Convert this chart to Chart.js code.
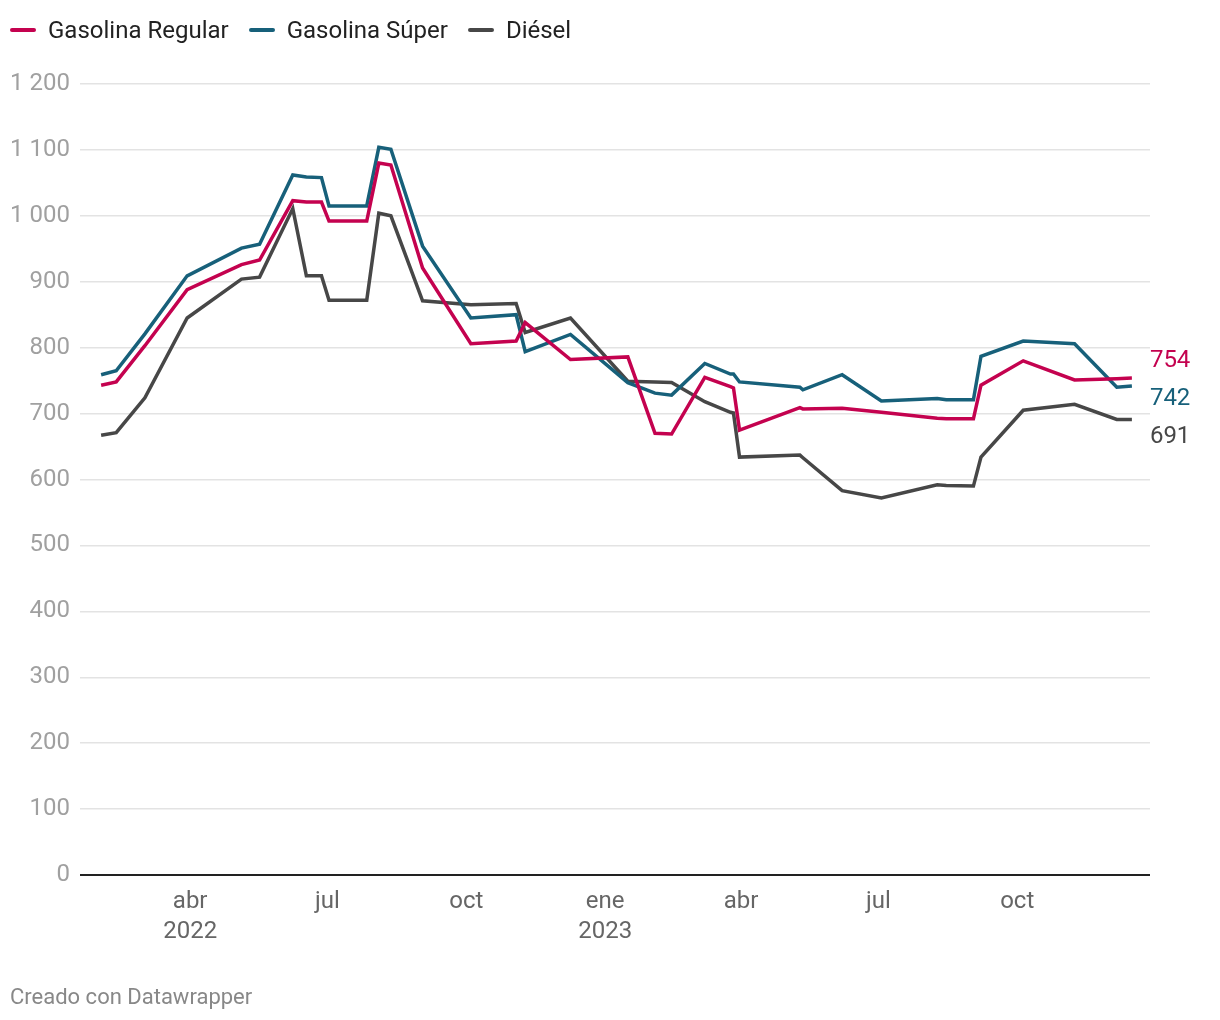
<!DOCTYPE html>
<html>
<head>
<meta charset="utf-8">
<script src="https://cdn.jsdelivr.net/npm/chart.js@4"></script>
<style>
  body { margin: 0; background: #fff; font-family: Roboto, sans-serif; }
  #wrap { position: relative; width: 1220px; height: 1020px; }
  #legend { position: absolute; left: 10px; top: 15px; display: flex; font-size: 24px; color: #222; line-height: 30px; }
  .item { display: flex; align-items: center; margin-right: 20px; }
  .sw { width: 26px; height: 4px; border-radius: 2px; margin-right: 12px; }
  #foot { position: absolute; left: 10px; top: 983px; font-size: 22px; color: #888; line-height: 28px; }
</style>
</head>
<body>
<div id="wrap">
  <canvas id="myChart" width="1220" height="1020"></canvas>
  <div id="legend"></div>
  <div id="foot">Creado con Datawrapper</div>
</div>
<script>
// fechas de ajuste (compartidas por las tres series)
const fechas = ['2022-02-01','2022-02-11','2022-03-02','2022-03-30','2022-05-05','2022-05-17','2022-06-08','2022-06-17',
  '2022-06-27','2022-07-02','2022-07-27','2022-08-04','2022-08-12','2022-09-02','2022-10-04','2022-11-03','2022-11-09',
  '2022-12-09','2023-01-16','2023-02-03','2023-02-14','2023-03-08','2023-03-25','2023-03-27','2023-03-31','2023-05-10',
  '2023-05-12','2023-06-07','2023-07-03','2023-08-09','2023-08-15','2023-09-02','2023-09-07','2023-10-05','2023-11-08',
  '2023-12-06','2023-12-16'];
const regular = [743,748,803,888,926,933,1023,1021,1021,992,992,1080,1077,921,806,810,838,782,786,670,669,755,741,739,675,
  709,707,708,702,693,692,692,743,780,751,753,754];
const super_ = [759,765,821,909,951,957,1062,1059,1058,1015,1015,1104,1101,954,845,850,794,820,747,731,728,776,760,760,748,
  740,736,759,719,723,721,721,787,810,806,740,742];
const diesel = [667,671,724,845,904,907,1011,909,909,872,872,1004,1000,871,865,867,823,845,749,748,747,718,702,701,634,
  637,633,583,572,592,591,590,634,705,714,691,691];

const nombres = ['Gasolina Regular', 'Gasolina Súper', 'Diésel'];
const colores = ['#c4024f', '#17607a', '#474747'];

const tickFechas = ['2022-04-01','2022-07-01','2022-10-01','2023-01-01','2023-04-01','2023-07-01','2023-10-01'];
const tickLabels = [['abr','2022'],'jul','oct',['ene','2023'],'abr','jul','oct'];
const xDesde = '2022-01-18';
const xHasta = '2023-12-28';

function dia(s) {
    let p = s.split('-').map(Number);
    return (Date.UTC(p[0], p[1]-1, p[2]) - Date.UTC(2022, 0, 1)) / 86400000;
}
const tickDias = tickFechas.map(dia);

const series = [regular, super_, diesel];
let dataset = series.map((vals, i) => ({
    label: nombres[i],
    data: vals.map((v, j) => ({x: dia(fechas[j]), y: v})),
    borderColor: colores[i],
    backgroundColor: colores[i],
    borderWidth: 3.5,
    pointRadius: 0,
    tension: 0
}));

// leyenda
const leg = document.getElementById('legend');
nombres.forEach((n, i) => {
    leg.innerHTML += `<div class="item"><div class="sw" style="background:${colores[i]}"></div>${n}</div>`;
});

// etiquetas al final de cada línea, separadas para que no se pisen
const finales = {
    id: 'finales',
    afterDatasetsDraw(chart) {
        const c = chart.ctx;
        let items = chart.data.datasets.map((ds, i) => {
            const meta = chart.getDatasetMeta(i);
            const pt = meta.data[meta.data.length - 1];
            return {x: pt.x, y: pt.y, y0: pt.y, txt: String(ds.data[ds.data.length - 1].y), color: ds.borderColor};
        });
        items.sort((a, b) => a.y - b.y);
        const gap = 38;
        for (let i = 1; i < items.length; i++) {
            if (items[i].y < items[i-1].y + gap) items[i].y = items[i-1].y + gap;
        }
        const n = items.length - 1;
        const shift = (items[0].y0 + items[n].y0) / 2 - (items[0].y + items[n].y) / 2;
        c.save();
        c.font = '24px Roboto';
        c.textBaseline = 'middle';
        c.textAlign = 'left';
        items.forEach(it => {
            c.fillStyle = it.color;
            c.fillText(it.txt, it.x + 18, it.y + shift);
        });
        c.restore();
    }
};

const ctx = document.getElementById('myChart');
var chart = new Chart(ctx, {
    type: 'line',
    data: { datasets: dataset },
    options: {
        responsive: false,
        animation: false,
        layout: { padding: { left: 10, right: 70, top: 84, bottom: 65 } },
        plugins: { legend: { display: false }, tooltip: { enabled: false } },
        scales: {
            x: {
                type: 'linear',
                min: dia(xDesde),
                max: dia(xHasta),
                afterBuildTicks: s => { s.ticks = tickDias.map(v => ({value: v})); },
                afterFit: s => { s.height = 80; },
                grid: { display: false, drawTicks: false },
                border: { display: false },
                ticks: {
                    color: '#666',
                    padding: 12,
                    maxRotation: 0,
                    autoSkip: false,
                    font: { family: 'Roboto', size: 24, lineHeight: 1.25 },
                    callback: v => tickLabels[tickDias.indexOf(v)]
                }
            },
            y: {
                min: 0,
                max: 1200,
                afterFit: s => { s.width = 70; },
                border: { display: false },
                grid: {
                    drawTicks: false,
                    color: c => c.tick && c.tick.value === 0 ? '#222' : '#e3e3e3',
                    lineWidth: c => c.tick && c.tick.value === 0 ? 2 : 1.5
                },
                ticks: {
                    stepSize: 100,
                    padding: 10,
                    color: '#a0a0a0',
                    font: { family: 'Roboto', size: 24 },
                    callback: v => String(v).replace(/\B(?=(\d{3})+(?!\d))/g, ' ')
                }
            }
        }
    },
    plugins: [finales]
});
</script>
</body>
</html>
